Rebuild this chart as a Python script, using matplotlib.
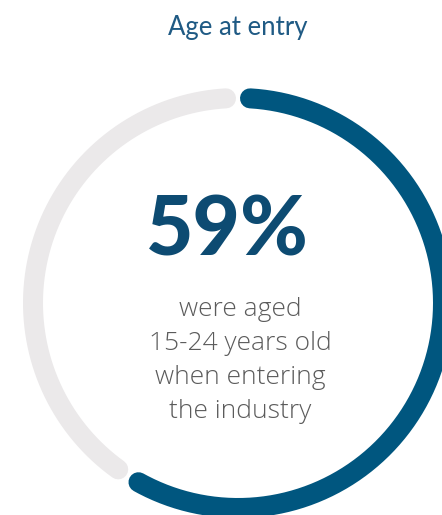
import numpy as np
import matplotlib.pyplot as plt

# Share of workers by age at entry
segments = ["15-24", "Other ages"]
shares = [59, 41]
segment_colors = ["#00567f", "#ebe9ea"]

title = "Age at entry"
headline = "59%"
caption = ["were aged", "15-24 years old", "when entering", "the industry"]

W, H = 442, 515
fig = plt.figure(figsize=(W / 100, H / 100), dpi=100)
ax = fig.add_axes([0, 0, 1, 1])
ax.set_xlim(0, W)
ax.set_ylim(H, 0)
ax.set_aspect("equal")
ax.axis("off")

cx, cy, r = 238, 303, 205
ring_px = 20
ring_pt = ring_px * 72 / 100
# angular trim at each end so round caps leave a small gap
trim = np.degrees((ring_px / 2 + 2) / r)

start = 0.0
total = sum(shares)
for share, color in zip(shares, segment_colors):
    span = 360 * share / total
    a = np.radians(np.linspace(start + trim, start + span - trim, 400))
    ax.plot(cx + r * np.sin(a), cy - r * np.cos(a), color=color,
            lw=ring_pt, solid_capstyle="round", zorder=2)
    start += span

ax.text(238, 35, title, ha="center", va="baseline", fontsize=18.5,
        color="#1f5a84", family="Lato")
ax.text(227, 255, headline, ha="center", va="baseline", fontsize=59,
        color="#0d4b72", family="Lato", fontweight="black")

baseline0 = 316
for i, line in enumerate(caption):
    ax.text(240, baseline0 + 34 * i, line, ha="center", va="baseline",
            fontsize=19, color="#5b5b5b", family="Open Sans", fontweight="light")

fig.savefig("out.png", dpi=100, facecolor="white")
